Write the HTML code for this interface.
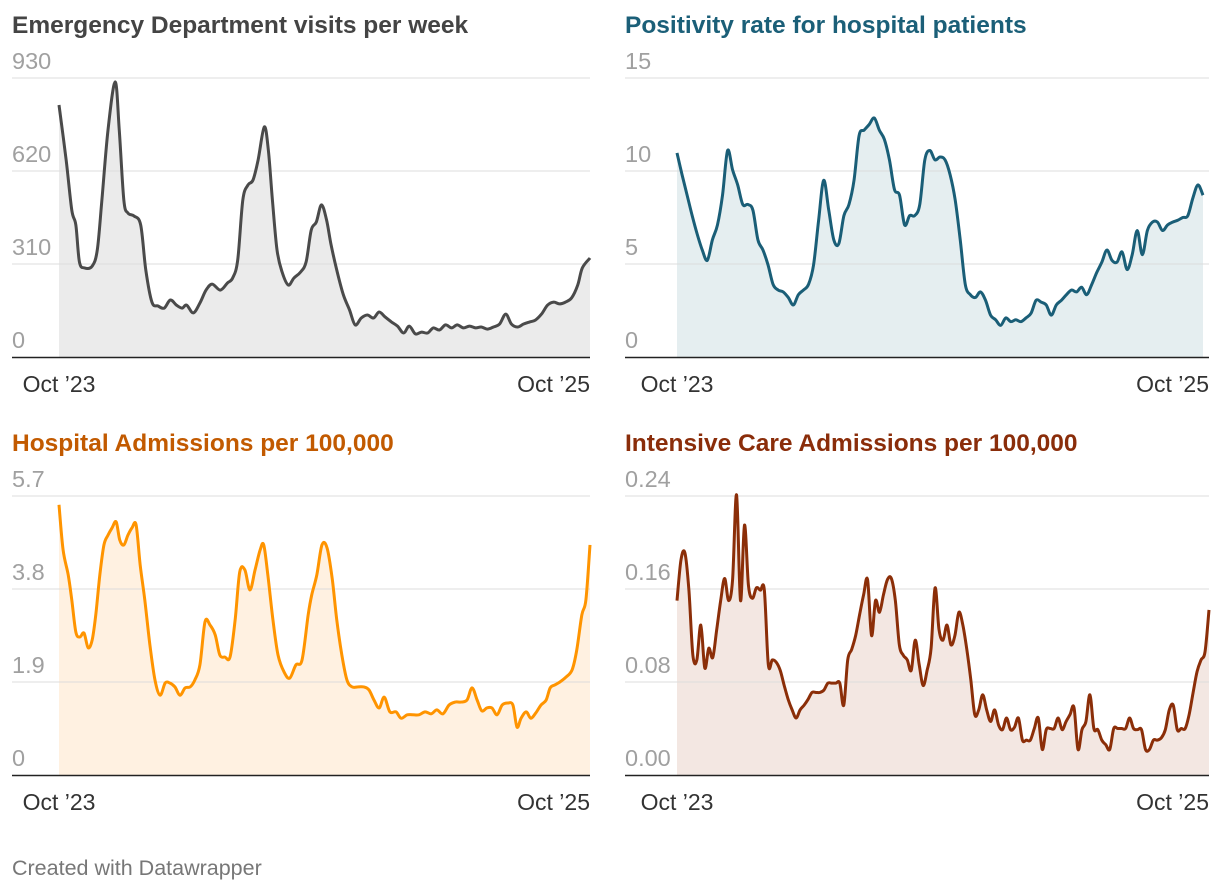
<!DOCTYPE html>
<html><head><meta charset="utf-8">
<style>
body{margin:0;background:#fff;width:1220px;height:892px;overflow:hidden;font-family:"Liberation Sans",Arial,sans-serif;}
svg{position:absolute;left:0;top:0}
</style></head>
<body>
<svg id="chart" width="1220" height="892"></svg>
<script>
// Panel 1: Emergency Department visits per week
const edWeeks=[0,1.4,2.5,3.3,4,5,6.5,7.5,8.4,9.6,11,11.8,12.7,13.5,14.7,16,17,18.2,19.4,20.6,21.8,23,24.1,25,26.3,27.6,28.8,30,31.6,33,34,35,36,37,38,39,40.2,41,41.8,42.7,43.7,44.9,46,47.3,48.4,49.4,50.4,51.4,52.4,53.3,54.5,55.7,56.9,58,59.2,60.4,61.6,62.7,63.9,65.1,66.3,67.5,68.6,69.8,71,72.2,73.3,74.5,75.7,76.9,78,79.2,80.4,81.6,82.7,83.9,85.1,86.3,87.5,88.6,89.8,91,92.2,93.3,94.5,95.7,96.9,98,99.2,100.4,101.6,102.5,104];
const edValues=[840,657,490,440,317,297,303,357,523,757,917,757,523,480,470,440,290,183,170,163,190,173,163,173,147,180,223,243,223,247,263,323,523,573,590,657,767,690,523,357,283,240,263,283,317,423,450,507,457,373,283,207,157,107,130,140,130,150,133,117,103,80,103,77,83,80,97,90,107,97,107,97,103,97,100,93,100,110,143,110,100,110,117,123,143,173,183,177,183,197,240,297,330];
const edTicks=[0,310,620,930];
// Panel 2: Positivity rate
const posValues=[10.97,9.8,8.7,7.6,6.6,5.75,5.2,6.3,7.1,8.7,11.1,10.05,9.25,8.2,8.2,7.9,6.3,5.75,4.95,3.9,3.6,3.5,3.2,2.8,3.35,3.6,3.9,4.95,7.35,9.5,7.9,6.3,6.1,7.6,8.2,9.5,11.9,12.2,12.5,12.85,12.2,11.7,10.6,9,8.7,7.1,7.6,7.6,8.2,10.6,11.1,10.6,10.75,10.6,9.8,8.45,6.3,3.9,3.35,3.2,3.5,3.05,2.25,2.0,1.7,2.1,1.9,2.0,1.9,2.1,2.35,3.05,2.95,2.8,2.25,2.8,3.05,3.35,3.6,3.5,3.75,3.35,3.9,4.55,5.1,5.75,5.2,5.1,5.65,4.7,5.5,6.8,5.5,6.8,7.25,7.25,6.8,7.1,7.25,7.35,7.5,7.6,8.55,9.25,8.7];
const posTicks=[0,5,10,15];
// Panel 3: Hospital admissions per 100,000
const hospWeeks=[0,0.8,1.8,2.5,3.3,4.1,4.9,5.7,6.5,7.2,8,8.8,9.6,10.4,11.2,11.9,12.7,13.5,14.3,15.1,15.9,16.8,17.8,18.8,19.8,20.8,21.7,22.7,23.7,24.7,25.7,26.6,27.6,28.6,29.6,30.6,31.5,32.5,33.5,34.5,35.4,36.4,37.4,38.4,39.4,40.1,40.9,41.9,42.9,44.1,45.2,46.4,47.6,48.8,49.5,50.5,51.5,52.5,53.5,54.4,55.4,56.4,57.4,58.6,59.7,60.7,61.7,62.7,63.7,64.8,66,67,68.2,69.3,70.5,71.7,72.9,74,75.2,76.4,77.6,78.7,79.9,80.9,81.9,82.8,83.8,84.8,85.8,86.8,87.9,88.9,89.7,90.5,91.5,92.4,93.4,94.4,95.4,96.2,97.1,98.1,99.3,100.5,101.4,102.4,103.2,104];
const hospValues=[5.52,4.6,4.09,3.58,2.92,2.82,2.9,2.6,2.76,3.27,4.09,4.7,4.9,5.05,5.17,4.8,4.7,4.9,5.05,5.11,4.29,3.58,2.66,1.94,1.63,1.88,1.88,1.8,1.63,1.78,1.8,1.94,2.25,3.13,3.06,2.86,2.45,2.41,2.41,3.17,4.15,4.19,3.78,4.19,4.6,4.7,4.09,3.17,2.45,2.1,1.98,2.25,2.35,3.27,3.68,4.09,4.7,4.64,4.02,3.17,2.45,1.94,1.8,1.8,1.8,1.74,1.53,1.37,1.59,1.29,1.29,1.16,1.23,1.23,1.23,1.29,1.25,1.33,1.25,1.43,1.49,1.49,1.53,1.78,1.53,1.31,1.37,1.37,1.23,1.43,1.47,1.43,0.98,1.16,1.29,1.16,1.27,1.43,1.53,1.78,1.84,1.9,2.0,2.15,2.55,3.27,3.58,4.7];
const hospTicks=[0,1.9,3.8,5.7];
// Panel 4: Intensive care admissions per 100,000
const icuValues=[0.150,0.185,0.191,0.159,0.103,0.099,0.129,0.092,0.109,0.101,0.125,0.150,0.169,0.150,0.168,0.241,0.150,0.215,0.163,0.152,0.161,0.159,0.159,0.095,0.099,0.097,0.090,0.077,0.065,0.056,0.049,0.056,0.060,0.065,0.071,0.071,0.071,0.073,0.079,0.079,0.079,0.079,0.060,0.099,0.108,0.120,0.138,0.155,0.168,0.120,0.150,0.140,0.155,0.168,0.169,0.150,0.112,0.103,0.099,0.090,0.116,0.095,0.077,0.090,0.109,0.161,0.125,0.116,0.129,0.112,0.120,0.140,0.129,0.108,0.082,0.052,0.056,0.069,0.056,0.046,0.056,0.043,0.039,0.049,0.039,0.041,0.049,0.030,0.030,0.030,0.040,0.049,0.022,0.039,0.040,0.040,0.049,0.039,0.046,0.052,0.058,0.022,0.039,0.046,0.069,0.040,0.039,0.030,0.026,0.022,0.040,0.040,0.040,0.040,0.049,0.040,0.039,0.039,0.022,0.022,0.030,0.030,0.032,0.039,0.056,0.060,0.039,0.040,0.040,0.052,0.071,0.089,0.099,0.106,0.142];
const icuTicks=[0,0.08,0.16,0.24];
const icuTickLabels=["0.00","0.08","0.16","0.24"];
const xLabels=["Oct \u201923","Oct \u201925"];

const NS="http://www.w3.org/2000/svg";
const svg=document.getElementById('chart');
function mk(tag,attrs,parent){const e=document.createElementNS(NS,tag);for(const k in attrs)e.setAttribute(k,attrs[k]);(parent||svg).appendChild(e);return e;}
function smooth(pts){let d=`M${pts[0][0]},${pts[0][1]}`;for(let i=0;i<pts.length-1;i++){const p0=pts[i-1]||pts[i],p1=pts[i],p2=pts[i+1],p3=pts[i+2]||p2;const t=0.5/3;d+=` C${p1[0]+(p2[0]-p0[0])*t},${p1[1]+(p2[1]-p0[1])*t} ${p2[0]-(p3[0]-p1[0])*t},${p2[1]-(p3[1]-p1[1])*t} ${p2[0]},${p2[1]}`;}return d;}
function panel(o){
  const g=mk('g',{});
  
  
  const t=mk('text',{x:o.labelX,y:o.top-45,'font-size':24.5,'font-weight':'bold',fill:o.titleColor},g);
  t.textContent=o.title;
  
  
  const maxV=o.ticks[o.ticks.length-1];
  const yS=v=>o.bottom-(v/maxV)*(o.bottom-o.top);
  const n=o.values.length;
  const xDom=o.xs?o.xs:o.values.map((v,i)=>i);
  const xMax=o.xs?o.xMax:n-1;
  const xS=v=>o.left+(v/xMax)*(o.right-o.left);
  const pts=o.values.map((v,i)=>[xS(xDom[i]),yS(v)]);
  const d=smooth(pts);
  const area=mk('path',{d:d+` L${pts[n-1][0]},${o.bottom} L${pts[0][0]},${o.bottom} Z`,fill:o.fill},g);
  
  
  o.ticks.forEach((tk,i)=>{
    const y=yS(tk);
    if(i>0){const l=mk('line',{x1:o.labelX,x2:o.axisRight,y1:y,y2:y,stroke:'#dcdcdc','stroke-width':1},g);
      
      }
    const tl=mk('text',{x:o.labelX,y:y-9,'font-size':23.5,fill:'#a0a0a0'},g);
    tl.textContent=o.tickLabels?o.tickLabels[i]:String(tk);
    
    
  });
  const line=mk('path',{d:d,fill:'none',stroke:o.color,'stroke-width':3,'stroke-linejoin':'round'},g);
  
  
  const ax=mk('line',{x1:o.labelX,x2:o.axisRight,y1:o.bottom+0.5,y2:o.bottom+0.5,stroke:'#222','stroke-width':1.5},g);
  
  
  const a=mk('text',{x:o.left,y:o.bottom+35,'font-size':23,fill:'#333','text-anchor':'middle'},g);
  a.textContent=xLabels[0];
  
  
  const b=mk('text',{x:o.axisRight,y:o.bottom+35,'font-size':23,fill:'#333','text-anchor':'end'},g);
  b.textContent=xLabels[1];
  
  
}
panel({name:'ed-visits-panel',title:'Emergency Department visits per week',titleColor:'#444',color:'#4a4a4a',fill:'#ebebeb',values:edValues,xs:edWeeks,xMax:104,ticks:edTicks,labelX:12,left:59,right:590,axisRight:590,top:78,bottom:357});
panel({name:'positivity-panel',title:'Positivity rate for hospital patients',titleColor:'#1b5f78',color:'#1a5e77',fill:'#e5eef0',values:posValues,ticks:posTicks,labelX:625,left:677,right:1203,axisRight:1209,top:78,bottom:357});
panel({name:'hospital-admissions-panel',title:'Hospital Admissions per 100,000',titleColor:'#c25a00',color:'#ff9400',fill:'#fff1e1',values:hospValues,xs:hospWeeks,xMax:104,ticks:hospTicks,labelX:12,left:59,right:590,axisRight:590,top:496,bottom:775});
panel({name:'icu-admissions-panel',title:'Intensive Care Admissions per 100,000',titleColor:'#8a2d0a',color:'#8b2e08',fill:'#f3e7e2',values:icuValues,ticks:icuTicks,tickLabels:icuTickLabels,labelX:625,left:677,right:1209,axisRight:1209,top:496,bottom:775});
const f=mk('text',{x:12,y:875,'font-size':21.5,fill:'#777'});
f.textContent='Created with Datawrapper';


</script>
</body></html>
